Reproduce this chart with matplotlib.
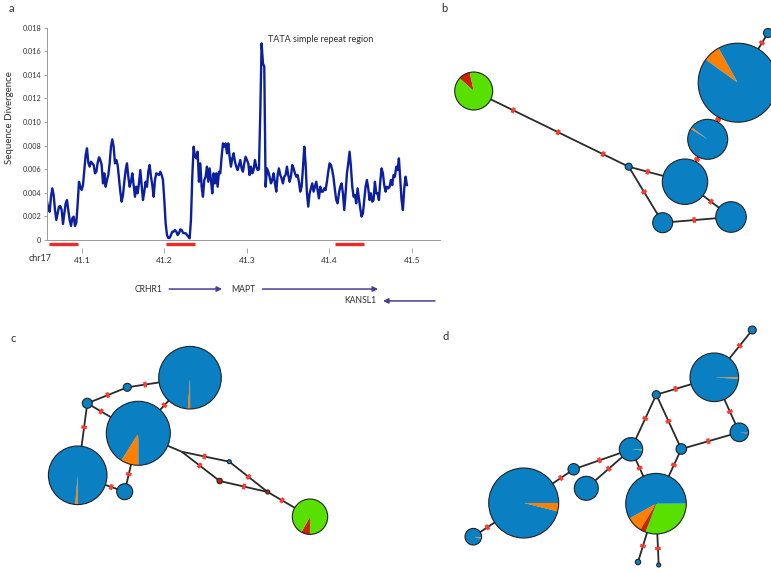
import numpy as np
import matplotlib
matplotlib.use('Agg')
import matplotlib.pyplot as plt
from matplotlib.patches import Wedge, Circle

plt.rcParams['font.family'] = ['Lato', 'DejaVu Sans']

# ---- panel a: sequence divergence along chr17 (x1e-3), sliding windows
win_start = 41.058   # Mb
win_step = 0.0016145  # Mb
div_milli = [
    3.25, 2.68, 2.40, 3.67, 4.38, 3.81, 2.54, 1.70, 2.26, 2.83, 2.88, 2.54, 1.36, 2.26, 3.11, 3.39, 2.49, 1.70, 1.19, 1.84, 1.98, 1.19, 1.47, 3.05, 4.94,
    4.52, 4.24, 4.66, 5.93, 7.20, 7.77, 6.55, 6.22, 6.64, 6.50, 6.36, 5.65, 5.79, 6.55, 7.01, 6.78, 6.36, 4.80, 5.65, 4.52, 5.09, 5.51, 6.50, 7.91, 8.53,
    7.91, 6.50, 6.78, 6.36, 5.23, 4.10, 3.25, 3.81, 4.94, 5.93, 6.50, 5.37, 4.52, 4.94, 5.65, 4.66, 3.67, 4.52, 3.96, 4.80, 5.93, 4.66, 3.39, 4.10, 4.94,
    4.52, 5.79, 6.36, 5.37, 4.66, 3.67, 5.09, 5.65, 5.59, 5.51, 5.79, 5.51, 5.09, 3.39, 1.41, 0.42, 0.17, 0.17, 0.42, 0.71, 0.71, 0.85, 0.71, 0.42, 0.57,
    0.90, 0.85, 0.62, 0.57, 0.57, 0.42, 0.28, 0.14, 1.70, 5.37, 7.91, 7.06, 6.92, 7.49, 4.94, 6.50, 4.52, 3.67, 5.09, 5.37, 6.22, 4.94, 6.07, 5.09, 3.96,
    5.65, 4.80, 5.65, 4.52, 5.79, 5.65, 7.06, 8.19, 7.91, 8.19, 7.35, 8.19, 7.06, 6.22, 6.92, 7.35, 6.64, 6.22, 5.93, 6.36, 6.78, 6.07, 5.79, 6.50, 7.06,
    6.78, 6.50, 5.51, 6.22, 5.65, 5.93, 6.78, 6.22, 5.93, 5.99, 10.74, 16.67, 14.97, 14.69, 4.52, 6.07, 5.79, 5.37, 4.80, 5.09, 5.65, 4.80, 4.10, 5.51, 6.07,
    5.51, 5.23, 4.80, 5.37, 5.51, 6.22, 5.51, 4.94, 5.37, 6.36, 6.07, 5.65, 5.37, 5.51, 4.94, 4.10, 4.52, 6.07, 7.91, 6.50, 3.96, 2.83, 3.96, 4.38, 4.80,
    4.10, 4.52, 4.94, 4.24, 3.53, 4.52, 4.10, 4.10, 4.38, 4.24, 4.94, 5.79, 6.50, 6.36, 5.93, 5.23, 4.24, 3.39, 3.11, 3.96, 4.52, 4.80, 3.96, 2.54, 3.96,
    5.65, 6.50, 7.49, 6.22, 4.52, 3.67, 3.81, 3.11, 4.38, 3.53, 2.68, 1.98, 2.26, 3.39, 4.52, 5.09, 4.38, 3.39, 3.96, 3.25, 3.39, 4.94, 3.96, 3.96, 3.39,
    4.94, 6.07, 5.65, 4.66, 4.10, 4.52, 4.38, 4.52, 5.09, 4.66, 5.51, 5.37, 6.22, 5.93, 6.92, 5.09, 3.39, 2.54, 4.38, 5.37, 4.66,
]
red_regions = [(41.060, 41.095), (41.202, 41.237), (41.407, 41.442)]
genes = ['CRHR1', 'MAPT', 'KANSL1']
gene_tail = [41.206, 41.319, 41.528]
gene_head = [41.270, 41.459, 41.465]
xticks = [41.1, 41.2, 41.3, 41.4, 41.5]
yticks = [0, 0.002, 0.004, 0.006, 0.008, 0.010, 0.012, 0.014, 0.016, 0.018]
ytick_labels = ['0', '0.002', '0.004', '0.006', '0.008', '0.010', '0.012', '0.014', '0.016', '0.018']

# ---- haplotype networks: x, y, radius, orange, red, green, start angle (blue = rest)
nodes_b = [
    (473.7, 91.0, 19.0, 0, 0.10, 0.90, 102),
    (737.7, 82.7, 39.5, 0.07, 0, 0, 119),
    (768.0, 33.0, 4.5, 0, 0, 0, 0),
    (707.7, 139.3, 20.0, 0.015, 0, 0, 143),
    (685.0, 181.7, 22.7, 0, 0, 0, 0),
    (628.7, 166.7, 3.5, 0, 0, 0, 0),
    (662.7, 222.7, 10.0, 0, 0, 0, 0),
    (731.0, 217.0, 15.3, 0, 0, 0, 0),
]
edges_b = [(0, 5, 3), (5, 4, 1), (5, 6, 1), (6, 7, 1), (4, 7, 1), (4, 3, 1), (3, 1, 1), (1, 2, 1)]

nodes_c = [
    (190.0, 377.7, 31.3, 0.012, 0, 0, 266),
    (138.3, 433.3, 32.0, 0.089, 0, 0, 238),
    (77.7, 475.3, 29.3, 0.014, 0, 0, 265),
    (124.7, 491.7, 8.0, 0, 0, 0, 0),
    (87.3, 403.3, 5.0, 0, 0, 0, 0),
    (127.3, 387.3, 4.0, 0, 0, 0, 0),
    (229.3, 461.7, 2.0, 0, 0, 0, 0),
    (219.7, 481.0, 2.7, 0, 1.0, 0, 0),
    (267.7, 492.0, 2.0, 0, 1.0, 0, 0),
    (310.0, 516.7, 17.7, 0, 0.08, 0.92, 241),
    (181.7, 451.7, 0.0, 0, 0, 0, 0),
]
edges_c = [(0, 5, 1), (5, 4, 1), (4, 2, 1), (4, 1, 1), (0, 1, 1), (1, 3, 1), (2, 3, 1),
           (1, 10, 0), (10, 6, 1), (10, 7, 1), (6, 8, 1), (7, 8, 1), (8, 9, 1)]

nodes_d = [
    (752.3, 330.0, 4.0, 0, 0, 0, 0),
    (714.3, 377.3, 24.3, 0.012, 0, 0, 356),
    (656.3, 394.7, 4.0, 0, 0, 0, 0),
    (739.3, 432.3, 9.3, 0, 0.02, 0, 350),
    (681.3, 449.0, 5.3, 0, 0, 0, 0),
    (631.0, 449.3, 11.7, 0, 0, 0.015, 354),
    (656.0, 503.7, 30.3, 0.083, 0.031, 0.306, 209),
    (573.7, 469.3, 5.7, 0, 0, 0, 0),
    (586.3, 488.3, 12.0, 0, 0, 0, 0),
    (523.7, 503.0, 35.0, 0.039, 0, 0, 346),
    (473.3, 536.7, 8.3, 0.03, 0, 0, 345),
    (638.0, 562.0, 2.7, 0, 0, 0, 0),
    (658.7, 565.0, 2.0, 0, 0, 0, 0),
]
edges_d = [(0, 1, 1), (1, 2, 1), (1, 3, 1), (3, 4, 1), (2, 4, 1), (2, 5, 1), (5, 6, 1),
           (4, 6, 1), (5, 7, 1), (5, 8, 1), (7, 9, 1), (9, 10, 1), (6, 11, 1), (6, 12, 1)]

c_blue = '#0a80c2'
c_orange = '#ff8000'
c_red = '#cc2200'
c_green = '#58e000'
c_mark = '#ff3b30'
c_edge = '#2a2a2a'
c_text = '#2e2e2e'


def draw_net(ax, nodes, edges):
    for i, j, n in edges:
        x1, y1, r1 = nodes[i][:3]
        x2, y2, r2 = nodes[j][:3]
        ax.plot([x1, x2], [y1, y2], color=c_edge, lw=1.3, zorder=1, solid_capstyle='butt')
        L = np.hypot(x2 - x1, y2 - y1)
        ux, uy = (x2 - x1) / L, (y2 - y1) / L
        for k in range(n):
            t = r1 + (k + 0.5) / n * (L - r1 - r2)
            px, py = x1 + ux * t, y1 + uy * t
            ax.plot([px - uy * 2.8, px + uy * 2.8], [py + ux * 2.8, py - ux * 2.8],
                    color=c_mark, lw=2.4, zorder=2, solid_capstyle='butt')
    for x, y, r, fo, fr, fg, a0 in nodes:
        if r == 0:
            continue
        a = a0
        for f, col in zip([fo, fr, fg, 1 - fo - fr - fg], [c_orange, c_red, c_green, c_blue]):
            if f <= 0:
                continue
            ax.add_patch(Wedge((x, y), r, -(a + f * 360), -a, facecolor=col, edgecolor='none', zorder=3))
            a += f * 360
        ax.add_patch(Circle((x, y), r, fill=False, edgecolor='#222222', lw=0.8, zorder=4))


fig = plt.figure(figsize=(7.71, 5.72), dpi=100)

axn = fig.add_axes([0, 0, 1, 1])
axn.set_xlim(0, 771)
axn.set_ylim(572, 0)
axn.axis('off')
draw_net(axn, nodes_b, edges_b)
draw_net(axn, nodes_c, edges_c)
draw_net(axn, nodes_d, edges_d)
for lab, (lx, ly) in zip('abcd', [(11, 9), (444, 9), (13, 338), (446, 337)]):
    axn.text(lx, ly, lab, fontsize=8, color=c_text, ha='center', va='center')

# panel a
ax = fig.add_axes([47 / 771, 1 - 240 / 572, (440 - 47) / 771, (240 - 27.7) / 572])
div = np.array(div_milli) * 1e-3
pos = win_start + win_step * np.arange(len(div))
ax.plot(pos, div, color='#0b1fa0', lw=1.7, solid_joinstyle='round')
ax.set_xlim(41.058, 41.534)
ax.set_ylim(0, 0.018)
ax.patch.set_alpha(0)
for s in ['top', 'right']:
    ax.spines[s].set_visible(False)
ax.spines['left'].set_color('#999999')
ax.spines['left'].set_linewidth(0.7)
ax.spines['bottom'].set_position(('outward', 5.8))
ax.spines['bottom'].set_visible(False)
ax.axhline(0, color='#999999', lw=0.7, clip_on=False)
ax.set_yticks(yticks)
ax.set_yticklabels(ytick_labels)
ax.set_xticks(xticks)
ax.set_xticklabels([str(t) for t in xticks])
ax.tick_params(axis='y', length=2, width=0.6, color='#999999', labelsize=5.2, labelcolor=c_text, pad=2)
ax.tick_params(axis='x', length=3.6, width=0.6, color='#999999', labelsize=6, labelcolor=c_text, pad=2.5)
ax.set_ylabel('Sequence Divergence', fontsize=7, color=c_text)
ax.yaxis.set_label_coords(-0.084, 0.577)
ax.text(41.3258, 0.01702, 'TATA simple repeat region', fontsize=6.5, color=c_text, ha='left', va='center')
ax.text(-0.0165, -0.085, 'chr17', transform=ax.transAxes, fontsize=6.5, color=c_text, ha='center', va='center')

trans = ax.get_xaxis_transform()
for x0, x1 in red_regions:
    ax.plot([x0, x1], [-0.019, -0.019], transform=trans, color='#ee2a24', lw=2.4, clip_on=False, solid_capstyle='butt')

gene_y = [-0.231, -0.231, -0.287]
for name, t0, t1, gy in zip(genes, gene_tail, gene_head, gene_y):
    ax.annotate('', xy=(t1, gy), xytext=(t0, gy), xycoords=trans, textcoords=trans,
                arrowprops=dict(arrowstyle='-|>', color='#4a3c98', lw=1.1, mutation_scale=7.5,
                                shrinkA=0, shrinkB=0), annotation_clip=False)
    tx = min(t0, t1) - 0.0085
    ax.text(tx, gy, name, transform=trans, fontsize=6.2, color=c_text, ha='right', va='center', clip_on=False)

fig.savefig('out.png', dpi=100)
